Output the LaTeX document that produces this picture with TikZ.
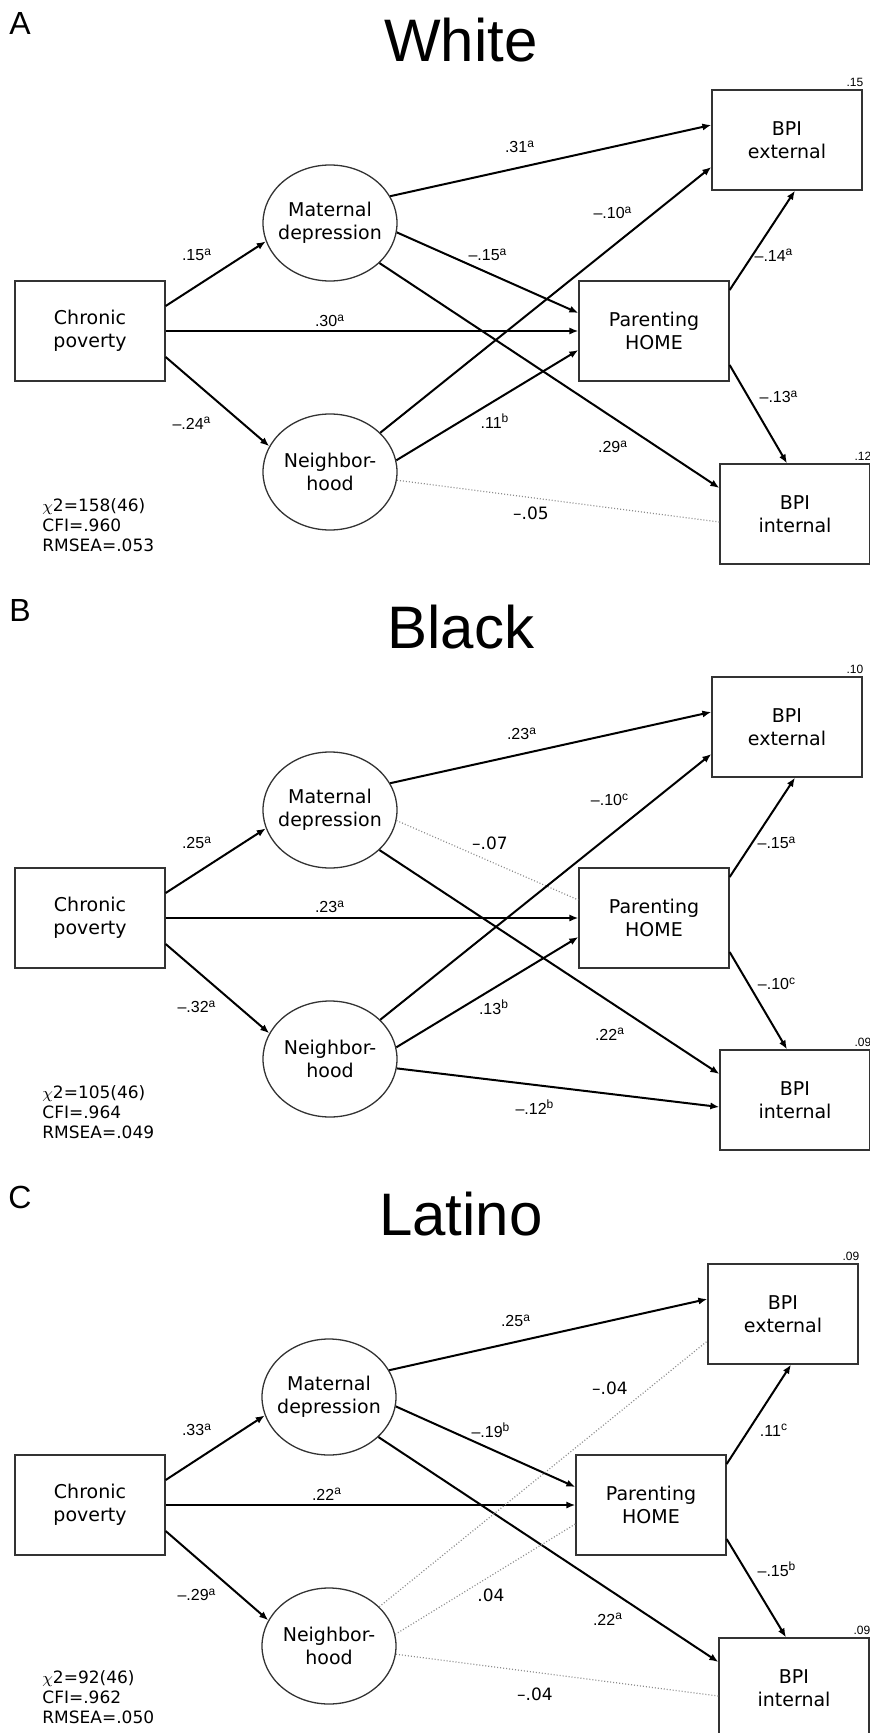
\documentclass[tikz,border=0pt]{standalone}
\usepackage{fontspec}
\setmainfont{DejaVu Sans}
\newfontfamily\arialfont{Liberation Sans}
\usetikzlibrary{arrows.meta,calc,shapes.geometric}
\definecolor{edge}{HTML}{333333}
\definecolor{dots}{HTML}{8C8C8C}
\newcommand{\sig}[1]{\textsuperscript{#1}}

\begin{document}
\begin{tikzpicture}[x=0.5pt,y=-0.5pt,  % 1 unit = 1 px of the figure, y down
  box/.style={draw=edge,line width=0.65pt,minimum width=75pt,minimum height=50pt,
    inner sep=0pt,align=center,font=\fontsize{9.5}{11.5}\selectfont},
  latent/.style={draw=edge,ellipse,line width=0.65pt,minimum width=67pt,minimum height=58pt,
    inner xsep=-3pt,inner ysep=0pt,align=center,font=\fontsize{9.5}{11.5}\selectfont},
  arr/.style={line width=1pt,-{Latex[length=4.5pt,width=3.6pt]}},
  nopath/.style={dots,line width=0.6pt,dash pattern=on 0.5pt off 1pt},
  coef/.style={font=\arialfont\fontsize{8}{9}\selectfont,inner sep=1pt},
  ns/.style={font=\fontsize{8.5}{9}\selectfont,inner sep=1pt},
  rsq/.style={font=\arialfont\fontsize{6}{7}\selectfont,anchor=south east,inner sep=1pt,xshift=1.5pt},
  grouptitle/.style={font=\arialfont\fontsize{30}{32}\selectfont,inner sep=0pt},
  panellabel/.style={font=\arialfont\fontsize{16}{18}\selectfont,inner sep=0pt},
  stats/.style={font=\fontsize{8.5}{10}\selectfont,align=left,anchor=west,inner sep=0pt}]
  \useasboundingbox (0,0) rectangle (870,1733);
  % ---- (A) White
  \begin{scope}
    \node[panellabel] (labA) at (20,23) {A};
    \node[grouptitle] (titA) at (461,40) {White};
    \node[box] (cpA) at (90,331) {Chronic\\poverty};
    \node[latent] (mdA) at (330,223) {Maternal\\depression};
    \node[latent] (nbA) at (330,472) {Neighbor-\\hood};
    \node[box] (phA) at (654,331) {Parenting\\HOME};
    \node[box] (beA) at (787,140) {BPI\\external};
    \node[box] (biA) at (795,514) {BPI\\internal};
    \node[rsq] (r1A) at (beA.north east) {.15};
    \node[rsq] (r2A) at (biA.north east) {.12};
    \node[stats] (fitA) at (42,525) {$\chi$2=158(46)\\CFI=.960\\RMSEA=.053};
    \draw[arr] ([yshift=12.5pt]cpA.east) -- (mdA.196);
    \draw[arr] (cpA.east) -- (phA.west);
    \draw[arr] ([yshift=-13pt]cpA.east) -- (nbA.157);
    \draw[arr] (mdA.24) -- ([yshift=7.5pt]beA.west);
    \draw[arr] (mdA.-8) -- ([yshift=9pt]phA.west);
    \draw[arr] (mdA.-39) -- ([yshift=13pt]biA.west);
    \draw[arr] (nbA.38) -- ([yshift=-13.5pt]beA.west);
    \draw[arr] (nbA.10) -- ([yshift=-9.5pt]phA.west);
    \draw[nopath] (nbA.-7) -- ([yshift=-4pt]biA.west);
    \draw[arr] ([yshift=20.5pt]phA.east) -- ([xshift=4pt]beA.south);
    \draw[arr] ([yshift=-17pt]phA.east) -- ([xshift=-4pt]biA.north);
    \node[coef] (k1A) at (520,147) {.31\sig{a}};
    \node[coef] (k2A) at (613,213) {–.10\sig{a}};
    \node[coef] (k3A) at (197,255) {.15\sig{a}};
    \node[coef] (k4A) at (488,255) {–.15\sig{a}};
    \node[coef] (k5A) at (774,255) {–.14\sig{a}};
    \node[coef] (k6A) at (330,321) {.30\sig{a}};
    \node[coef] (k7A) at (192,423) {–.24\sig{a}};
    \node[coef] (k8A) at (495,421) {.11\sig{b}};
    \node[coef] (k9A) at (779,397) {–.13\sig{a}};
    \node[coef] (k10A) at (613,447) {.29\sig{a}};
    \node[ns] (k11A) at (531,513) {–.05};
  \end{scope}
  % ---- (B) Black
  \begin{scope}[shift={(0,587)}]
    \node[panellabel] (labB) at (20,23) {B};
    \node[grouptitle] (titB) at (461,40) {Black};
    \node[box] (cpB) at (90,331) {Chronic\\poverty};
    \node[latent] (mdB) at (330,223) {Maternal\\depression};
    \node[latent] (nbB) at (330,472) {Neighbor-\\hood};
    \node[box] (phB) at (654,331) {Parenting\\HOME};
    \node[box] (beB) at (787,140) {BPI\\external};
    \node[box] (biB) at (795,513) {BPI\\internal};
    \node[rsq] (r1B) at (beB.north east) {.10};
    \node[rsq] (r2B) at (biB.north east) {.09};
    \node[stats] (fitB) at (42,525) {$\chi$2=105(46)\\CFI=.964\\RMSEA=.049};
    \draw[arr] ([yshift=12.5pt]cpB.east) -- (mdB.196);
    \draw[arr] (cpB.east) -- (phB.west);
    \draw[arr] ([yshift=-13pt]cpB.east) -- (nbB.157);
    \draw[arr] (mdB.24) -- ([yshift=7.5pt]beB.west);
    \draw[nopath] (mdB.-9) -- ([yshift=9pt]phB.west);
    \draw[arr] (mdB.-39) -- ([yshift=13pt]biB.west);
    \draw[arr] (nbB.38) -- ([yshift=-13.5pt]beB.west);
    \draw[arr] (nbB.10) -- ([yshift=-9.5pt]phB.west);
    \draw[arr] (nbB.-8) -- ([yshift=-3.5pt]biB.west);
    \draw[arr] ([yshift=20.5pt]phB.east) -- ([xshift=4pt]beB.south);
    \draw[arr] ([yshift=-17pt]phB.east) -- ([xshift=-4pt]biB.north);
    \node[coef] (k1B) at (522,147) {.23\sig{a}};
    \node[coef] (k2B) at (610,213) {–.10\sig{c}};
    \node[coef] (k3B) at (197,256) {.25\sig{a}};
    \node[ns] (k4B) at (490,256) {–.07};
    \node[coef] (k5B) at (777,256) {–.15\sig{a}};
    \node[coef] (k6B) at (330,320) {.23\sig{a}};
    \node[coef] (k7B) at (197,420) {–.32\sig{a}};
    \node[coef] (k8B) at (494,420) {.13\sig{b}};
    \node[coef] (k9B) at (777,397) {–.10\sig{c}};
    \node[coef] (k10B) at (610,447) {.22\sig{a}};
    \node[coef] (k11B) at (535,520) {–.12\sig{b}};
  \end{scope}
  % ---- (C) Latino
  \begin{scope}[shift={(0,1174)}]
    \node[panellabel] (labC) at (20,23) {C};
    \node[grouptitle] (titC) at (461,40) {Latino};
    \node[box] (cpC) at (90,331) {Chronic\\poverty};
    \node[latent] (mdC) at (329,223) {Maternal\\depression};
    \node[latent] (nbC) at (329,472) {Neighbor-\\hood};
    \node[box] (phC) at (651,331) {Parenting\\HOME};
    \node[box] (beC) at (783,140) {BPI\\external};
    \node[box] (biC) at (794,514) {BPI\\internal};
    \node[rsq] (r1C) at (beC.north east) {.09};
    \node[rsq] (r2C) at (biC.north east) {.09};
    \node[stats] (fitC) at (42,523) {$\chi$2=92(46)\\CFI=.962\\RMSEA=.050};
    \draw[arr] ([yshift=12.5pt]cpC.east) -- (mdC.196);
    \draw[arr] (cpC.east) -- (phC.west);
    \draw[arr] ([yshift=-13pt]cpC.east) -- (nbC.157);
    \draw[arr] (mdC.24) -- ([yshift=7.5pt]beC.west);
    \draw[arr] (mdC.-8) -- ([yshift=9pt]phC.west);
    \draw[arr] (mdC.-39) -- ([yshift=13pt]biC.west);
    \draw[nopath] (nbC.38) -- ([yshift=-13.5pt]beC.west);
    \draw[nopath] (nbC.10) -- ([yshift=-9.5pt]phC.west);
    \draw[nopath] (nbC.-7) -- ([yshift=-4pt]biC.west);
    \draw[arr] ([yshift=20.5pt]phC.east) -- ([xshift=4pt]beC.south);
    \draw[arr] ([yshift=-17pt]phC.east) -- ([xshift=-4pt]biC.north);
    \node[coef] (k1C) at (516,147) {.25\sig{a}};
    \node[ns] (k2C) at (610,214) {–.04};
    \node[coef] (k3C) at (197,256) {.33\sig{a}};
    \node[coef] (k4C) at (491,256) {–.19\sig{b}};
    \node[coef] (k5C) at (774,256) {.11\sig{c}};
    \node[coef] (k6C) at (327,320) {.22\sig{a}};
    \node[coef] (k7C) at (197,421) {–.29\sig{a}};
    \node[ns] (k8C) at (491,421) {.04};
    \node[coef] (k9C) at (777,395) {–.15\sig{b}};
    \node[coef] (k10C) at (608,445) {.22\sig{a}};
    \node[ns] (k11C) at (535,520) {–.04};
  \end{scope}
\end{tikzpicture}
\end{document}
